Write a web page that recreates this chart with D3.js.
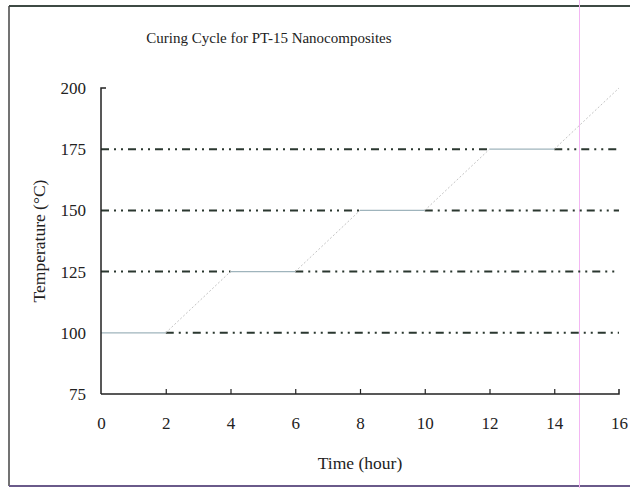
<!DOCTYPE html>
<html>
<head>
<meta charset="utf-8">
<script src="https://cdn.jsdelivr.net/npm/d3@7"></script>
<style>
  html, body { margin: 0; padding: 0; background: #fff; }
  svg { display: block; }
  text { font-family: "Liberation Serif", "DejaVu Serif", serif; fill: #222; }
</style>
</head>
<body>
<script>
// Curing schedule: time (hour) vs. oven temperature (°C)
const timeHours = [0, 2, 4, 6, 8, 10, 12, 14, 16];
const tempC     = [100, 100, 125, 125, 150, 150, 175, 175, 200];
const holdLevels = [100, 125, 150, 175];
const xTicks = [0, 2, 4, 6, 8, 10, 12, 14, 16];
const yTicks = [75, 100, 125, 150, 175, 200];

const W = 630, H = 488;
const svg = d3.select("body").append("svg").attr("width", W).attr("height", H);

// outer frame
svg.append("line").attr("x1", 9).attr("x2", W).attr("y1", 6).attr("y2", 6)
  .attr("stroke", "#3d4a44").attr("stroke-width", 2);
svg.append("line").attr("x1", 9).attr("x2", 9).attr("y1", 6).attr("y2", 486)
  .attr("stroke", "#444").attr("stroke-width", 1.5);
svg.append("line").attr("x1", 9).attr("x2", W).attr("y1", 486).attr("y2", 486)
  .attr("stroke", "#6a5a8a").attr("stroke-width", 2);
svg.append("line").attr("x1", 579.5).attr("x2", 579.5).attr("y1", 0).attr("y2", H)
  .attr("stroke", "#f3b6f3").attr("stroke-width", 1);

const x = d3.scaleLinear().domain([0, 16]).range([101, 619]);
const y = d3.scaleLinear().domain([75, 200]).range([394, 88]);

// title
svg.append("text").attr("x", 269).attr("y", 43).attr("text-anchor", "middle")
  .attr("font-size", 15).text("Curing Cycle for PT-15 Nanocomposites");

// dash-dot-dot reference lines at each hold temperature, broken where the hold segment runs
holdLevels.forEach(level => {
  const idx = tempC.map((t, i) => t === level ? i : -1).filter(i => i >= 0);
  const t0 = timeHours[idx[0]], t1 = timeHours[idx[idx.length - 1]];
  const parts = [[0, t0], [t1, 16]].filter(p => p[1] > p[0]);
  parts.forEach(p => {
    svg.append("line")
      .attr("x1", x(p[0])).attr("x2", x(p[1]))
      .attr("y1", y(level)).attr("y2", y(level))
      .attr("stroke", "#2a372f").attr("stroke-width", 2)
      .attr("stroke-dasharray", "8,5,2,5,2,5");
  });
});

// temperature profile: holds as thin solid, ramps as faint dotted
const pts = timeHours.map((t, i) => [t, tempC[i]]);
for (let i = 0; i < pts.length - 1; i++) {
  const a = pts[i], b = pts[i + 1];
  const hold = a[1] === b[1];
  svg.append("line")
    .attr("x1", x(a[0])).attr("y1", y(a[1]))
    .attr("x2", x(b[0])).attr("y2", y(b[1]))
    .attr("stroke", hold ? "#9fb4bc" : "#c4c4c4")
    .attr("stroke-width", hold ? 1.2 : 1)
    .attr("stroke-dasharray", hold ? null : "2,2");
}

// axes
const xAxis = d3.axisBottom(x).tickValues(xTicks).tickSize(-5).tickPadding(23)
  .tickFormat(d3.format("d"));
const gx = svg.append("g").attr("transform", `translate(0,${y(75)})`).call(xAxis);
gx.select(".domain").attr("d", `M${x(0)},0H${x(16)}V-5`).attr("stroke", "#222").attr("stroke-width", 1.5);
gx.selectAll(".tick line").attr("stroke", "#222").attr("stroke-width", 1.2);
gx.selectAll(".tick").filter(d => d === 0 || d === 16).select("line").remove();
gx.selectAll("text").attr("font-size", 17).attr("font-family", "Liberation Serif, serif").attr("fill", "#222");

const yAxis = d3.axisLeft(y).tickValues(yTicks).tickSize(0).tickPadding(15)
  .tickFormat(d3.format("d"));
const gy = svg.append("g").attr("transform", `translate(${x(0)},0)`).call(yAxis);
gy.select(".domain").attr("d", `M5,${y(200)}H0V${y(75)}`).attr("stroke", "#222").attr("stroke-width", 1.5).attr("fill", "none");
gy.selectAll("text").attr("font-size", 17).attr("font-family", "Liberation Serif, serif").attr("fill", "#222");

// axis titles
svg.append("text").attr("x", 360).attr("y", 469).attr("text-anchor", "middle")
  .attr("font-size", 17.5).text("Time (hour)");
svg.append("text").attr("transform", "translate(45,241) rotate(-90)")
  .attr("text-anchor", "middle").attr("font-size", 17.5).text("Temperature (°C)");
</script>
</body>
</html>
